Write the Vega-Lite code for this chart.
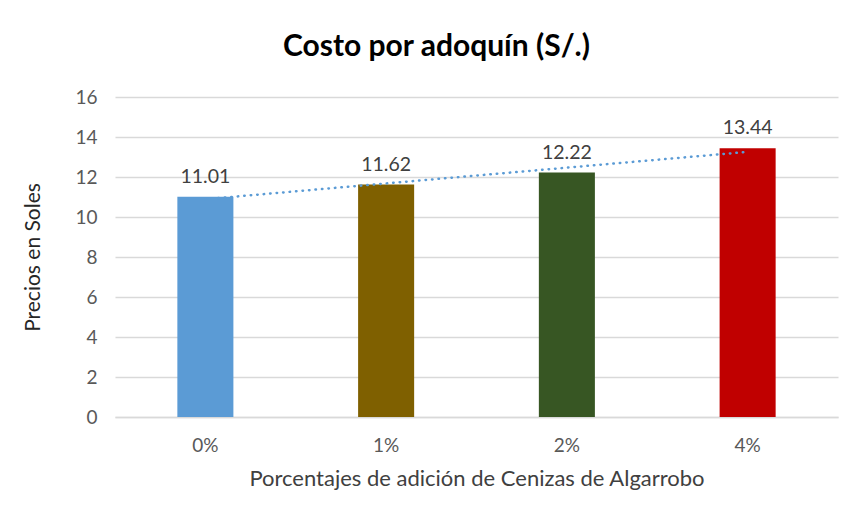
{
  "$schema": "https://vega.github.io/schema/vega-lite/v6.json",
  "width": 723,
  "height": 320,
  "autosize": {"type": "none"},
  "padding": {"left": 115, "top": 97, "right": 15, "bottom": 102},
  "background": "white",
  "title": {
    "text": "Costo por adoquín (S/.)",
    "font": "Lato",
    "fontSize": 30,
    "fontWeight": "bold",
    "color": "#000000",
    "anchor": "middle",
    "dx": -40,
    "offset": 26
  },
  "data": {
    "values": [
      {"pct": "0%", "costo": 11.01, "trend": 10.889},
      {"pct": "1%", "costo": 11.62, "trend": 11.678},
      {"pct": "2%", "costo": 12.22, "trend": 12.467},
      {"pct": "4%", "costo": 13.44, "trend": 13.256}
    ]
  },
  "config": {
    "view": {"stroke": null},
    "font": "Lato",
    "axisY": {
      "title": "Precios en Soles",
      "titleFont": "Lato",
      "titleFontSize": 21,
      "titleFontWeight": "normal",
      "titleColor": "#262626",
      "titlePadding": 31,
      "values": [0, 2, 4, 6, 8, 10, 12, 14, 16],
      "labelFont": "Lato",
      "labelFontSize": 19,
      "labelColor": "#595959",
      "labelPadding": 18,
      "ticks": false,
      "domain": false,
      "gridColor": "#D9D9D9",
      "gridWidth": 1.5,
      "labelOverlap": false
    }
  },
  "encoding": {
    "x": {
      "field": "pct",
      "type": "nominal",
      "sort": null,
      "scale": {"paddingInner": 0.69, "paddingOuter": 0.345},
      "axis": {
        "title": "Porcentajes de adición de Cenizas de Algarrobo",
        "titleFont": "Lato",
        "titleFontSize": 22,
        "titleFontWeight": "normal",
        "titleColor": "#404040",
        "titlePadding": 13,
        "labelAngle": 0,
        "labelFont": "Lato",
        "labelFontSize": 19,
        "labelColor": "#595959",
        "labelPadding": 19,
        "ticks": false,
        "domainColor": "#D9D9D9",
        "domainWidth": 1.5
      }
    },
    "y": {
      "field": "costo",
      "type": "quantitative",
      "scale": {"domain": [0, 16]},
      "title": "Precios en Soles",
      "axis": {"values": [0, 2, 4, 6, 8, 10, 12, 14, 16], "title": "Precios en Soles"}
    }
  },
  "layer": [
    {
      "mark": {"type": "bar"},
      "encoding": {
        "color": {
          "field": "pct",
          "type": "nominal",
          "scale": {"domain": ["0%", "1%", "2%", "4%"], "range": ["#5B9BD5", "#7F6000", "#375623", "#C00000"]},
          "legend": null
        }
      }
    },
    {
      "mark": {"type": "line", "color": "#5B9BD5", "strokeWidth": 2.5, "strokeDash": [0.5, 6], "strokeCap": "round"},
      "encoding": {
        "y": {"field": "trend", "type": "quantitative", "title": "Precios en Soles", "axis": {"values": [0, 2, 4, 6, 8, 10, 12, 14, 16], "title": "Precios en Soles"}}
      }
    },
    {
      "mark": {"type": "text", "baseline": "bottom", "dy": -10, "fontSize": 19.5, "color": "#404040", "font": "Lato"},
      "encoding": {
        "text": {"field": "costo", "type": "quantitative", "format": ".2f"}
      }
    }
  ]
}
